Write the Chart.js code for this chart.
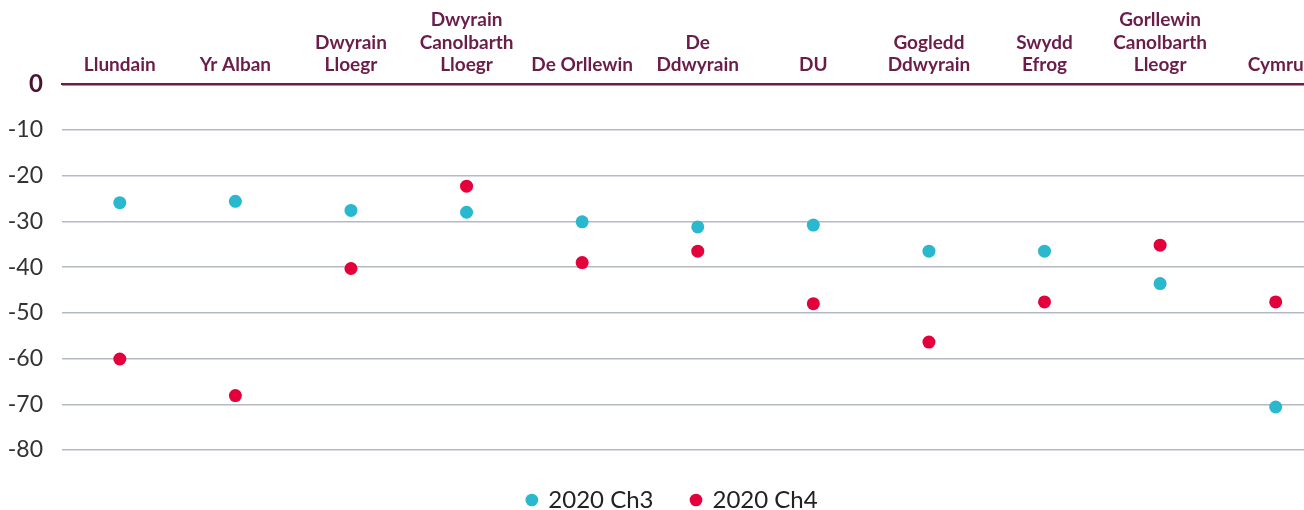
<!DOCTYPE html>
<html>
<head>
<meta charset="utf-8">
<script src="https://cdn.jsdelivr.net/npm/chart.js@4/dist/chart.umd.min.js"></script>
<style>
  html, body { margin: 0; padding: 0; background: #fff; overflow: hidden; }
  #wrap { width: 1340px; height: 522px; }
</style>
</head>
<body>
<div id="wrap"><canvas id="grafico" width="1340" height="522"></canvas></div>
<script>
const rhanbarthau = [
  'Llundain',
  'Yr Alban',
  ['Dwyrain', 'Lloegr'],
  ['Dwyrain', 'Canolbarth', 'Lloegr'],
  'De Orllewin',
  ['De', 'Ddwyrain'],
  'DU',
  ['Gogledd', 'Ddwyrain'],
  ['Swydd', 'Efrog'],
  ['Gorllewin', 'Canolbarth', 'Lleogr'],
  'Cymru'
];

const ch3 = [-25.9, -25.6, -27.6, -28.0, -30.1, -31.2, -30.8, -36.5, -36.5, -43.6, -70.6];
const ch4 = [-60.1, -68.1, -40.3, -22.3, -39.0, -36.5, -48.0, -56.4, -47.6, -35.2, -47.6];

const enwau = ['2020 Ch3', '2020 Ch4'];
const lliwiau = ['#29B8CE', '#E4003B'];

const marwn = '#6B1D4A';
const llwyd = '#B4B9C4';

// canvas is a little bigger than the 1304x510 window; the extra is clipped off
const ctx = document.getElementById('grafico').getContext('2d');
new Chart(ctx, {
  type: 'line',
  data: {
    labels: rhanbarthau,
    datasets: [ch3, ch4].map((d, i) => ({
      label: enwau[i],
      data: d,
      showLine: false,
      backgroundColor: lliwiau[i],
      borderColor: lliwiau[i],
      pointRadius: 6.5,
      pointHoverRadius: 6.5,
      pointBorderWidth: 0
    }))
  },
  options: {
    responsive: false,
    animation: false,
    layout: { padding: { top: 1, left: 7, right: 2, bottom: 0 } },
    plugins: {
      tooltip: { enabled: false },
      legend: {
        position: 'bottom',
        labels: {
          usePointStyle: true,
          pointStyle: 'circle',
          boxHeight: 9,
          boxWidth: 9,
          padding: 38,
          color: '#222',
          font: { family: 'Lato', size: 24 }
        }
      }
    },
    scales: {
      x: {
        position: 'top',
        offset: true,
        grid: { display: false, drawTicks: false },
        border: { display: true, color: marwn, width: 2 },
        ticks: {
          padding: 8,
          maxRotation: 0,
          autoSkip: false,
          color: marwn,
          font: { family: 'Lato', size: 19, weight: 'bold', lineHeight: 1.18 }
        }
      },
      y: {
        min: -80,
        max: 0,
        afterFit: s => { s.width = 55; },
        border: { display: false },
        grid: {
          drawTicks: false,
          lineWidth: 1.5,
          color: c => c.tick && c.tick.value === 0 ? marwn : llwyd
        },
        ticks: {
          stepSize: 10,
          padding: 19,
          color: c => c.tick && c.tick.value === 0 ? '#4A1430' : '#333',
          font: c => c.tick && c.tick.value === 0
            ? { family: 'Lato', size: 24, weight: 'bold' }
            : { family: 'Lato', size: 23 }
        }
      }
    }
  }
});
</script>
</body>
</html>
